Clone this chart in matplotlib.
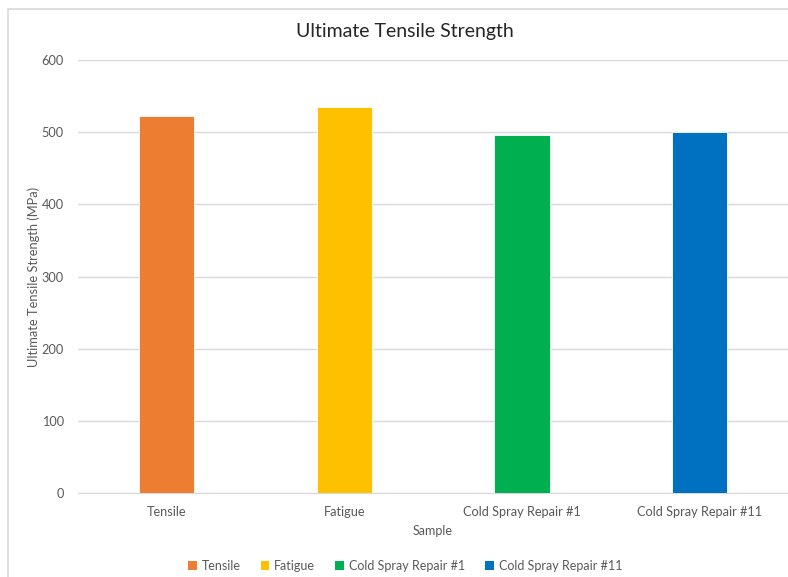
import matplotlib.pyplot as plt
from matplotlib.patches import Rectangle, Patch

samples = ["Tensile", "Fatigue", "Cold Spray Repair #1", "Cold Spray Repair #11"]
uts_mpa = [523, 535, 496, 500]
colors = ["#ED7D31", "#FFC000", "#00B050", "#0070C0"]
yticks = [0, 100, 200, 300, 400, 500, 600]

plt.rcParams["font.family"] = ["Lato", "DejaVu Sans"]
text_gray = "#595959"
grid_gray = "#d9d9d9"

W, H = 788, 577
fig = plt.figure(figsize=(W / 100, H / 100), dpi=100)

# chart frame, cut off at the right and bottom
fig.patches.append(Rectangle((8 / W, -0.1), 1.2, (H - 9) / H + 0.1,
                             transform=fig.transFigure, fill=False,
                             edgecolor=grid_gray, linewidth=1.2))

ax = fig.add_axes([77.7 / W, (H - 493.3) / H, 710.8 / W, 433.3 / H])
ax.bar(range(len(samples)), uts_mpa, width=0.312, color=colors,
       edgecolor="white", linewidth=0.6, zorder=3)

ax.set_xlim(-0.5, len(samples) - 0.5)
ax.set_ylim(0, 600)
ax.set_yticks(yticks)
ax.set_xticks(range(len(samples)))
ax.set_xticklabels(samples)
ax.grid(axis="y", color=grid_gray, linewidth=1.0, zorder=0)
for s in ["top", "right", "left"]:
    ax.spines[s].set_visible(False)
ax.spines["bottom"].set_color(grid_gray)
ax.tick_params(axis="both", length=0, labelsize=9.2, colors=text_gray)
ax.tick_params(axis="y", pad=10)
ax.tick_params(axis="x", pad=9)

ax.set_ylabel("Ultimate Tensile Strength (MPa)", fontsize=9.3,
              color=text_gray, labelpad=1)
ax.set_xlabel("Sample", fontsize=9, color=text_gray, labelpad=5)

fig.text(405 / W, 1 - 32 / H, "Ultimate Tensile Strength", ha="center",
         va="center", fontsize=14, color="#262626")

handles = [Patch(facecolor=c, label=s) for c, s in zip(colors, samples)]
fig.legend(handles=handles, loc="center", bbox_to_anchor=(405 / W, 1 - 566 / H),
           ncol=4, frameon=False, fontsize=9, labelcolor=text_gray,
           handlelength=0.7, handleheight=0.7, handletextpad=0.4,
           columnspacing=1.6)

fig.savefig("out.png", dpi=100)
